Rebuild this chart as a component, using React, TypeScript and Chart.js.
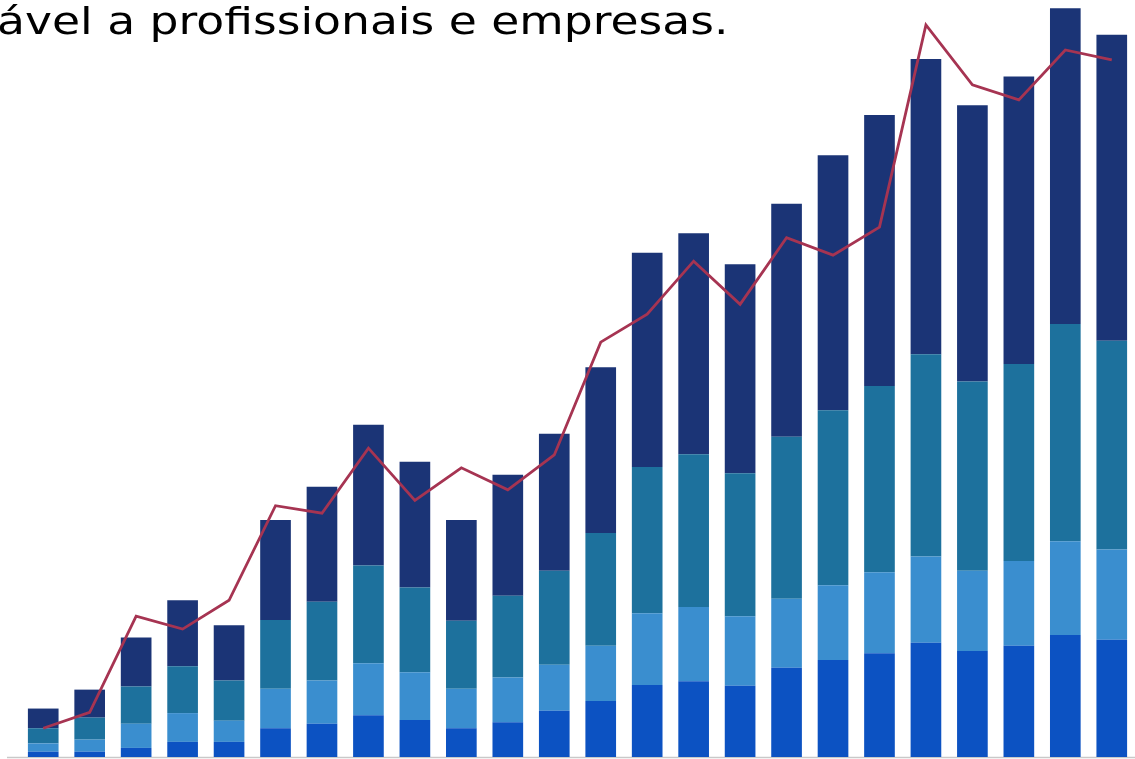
import React, { useEffect, useRef } from "react";
import { Chart, registerables } from "chart.js";

Chart.register(...registerables);

const categories = [
  "1", "2", "3", "4", "5", "6", "7", "8", "9", "10", "11", "12",
  "13", "14", "15", "16", "17", "18", "19", "20", "21", "22", "23", "24",
];

const seriesA = [0.7, 0.7, 1.2, 2.0, 2.0, 3.8, 4.4, 5.5, 4.9, 3.8, 4.6, 6.1, 7.4, 9.5, 10.0, 9.4, 11.8, 12.8, 13.7, 15.1, 14.0, 14.7, 16.1, 15.5];
const seriesB = [1.1, 1.6, 3.2, 3.8, 2.8, 5.2, 5.7, 6.9, 6.3, 5.2, 5.9, 6.1, 7.3, 9.5, 9.8, 9.2, 9.1, 9.9, 10.7, 11.4, 10.6, 11.2, 12.4, 11.9];
const seriesC = [2.0, 2.9, 4.9, 6.2, 5.3, 9.1, 10.4, 12.9, 11.2, 9.0, 10.8, 12.4, 14.9, 19.3, 20.2, 18.9, 21.4, 23.1, 24.6, 26.7, 25.0, 26.0, 28.7, 27.6];
const seriesD = [2.6, 3.7, 6.5, 8.7, 7.3, 13.2, 15.2, 18.6, 16.6, 13.3, 16.0, 18.1, 21.9, 28.3, 29.2, 27.6, 30.8, 33.7, 35.8, 39.0, 36.5, 38.0, 41.7, 40.4];
const lineSeries = [3.8, 5.9, 18.6, 16.9, 20.7, 33.2, 32.2, 40.8, 33.9, 38.2, 35.3, 39.9, 54.8, 58.5, 65.5, 59.8, 68.6, 66.3, 70.0, 96.7, 88.8, 86.8, 93.4, 92.1];

const titleText = "ável a profissionais e empresas.";

const baselinePlugin = {
  id: "baseline",
  beforeDatasetsDraw(chart: any) {
    const { ctx } = chart;
    const y = chart.scales.y.getPixelForValue(0);
    ctx.save();
    ctx.strokeStyle = "#c9c9c9";
    ctx.lineWidth = 1.5;
    ctx.beginPath();
    ctx.moveTo(7, y + 0.5);
    ctx.lineTo(chart.width, y + 0.5);
    ctx.stroke();
    ctx.restore();
  },
};

export default function App() {
  const canvasRef = useRef<HTMLCanvasElement | null>(null);

  useEffect(() => {
    document.body.style.margin = "0";
    const canvas = canvasRef.current;
    if (!canvas) return;
    const barCommon = {
      type: "bar" as const,
      barPercentage: 0.66,
      categoryPercentage: 1,
      borderWidth: 0,
      order: 1,
    };
    const chart = new Chart(canvas, {
      type: "bar",
      data: {
        labels: categories,
        datasets: [
          { ...barCommon, label: "A", data: seriesA, backgroundColor: "#0c52c2" },
          { ...barCommon, label: "B", data: seriesB, backgroundColor: "#3a8ecf" },
          { ...barCommon, label: "C", data: seriesC, backgroundColor: "#1d719d" },
          { ...barCommon, label: "D", data: seriesD, backgroundColor: "#1b3476" },
          {
            type: "line" as const,
            label: "Linha",
            data: lineSeries,
            borderColor: "#a63452",
            borderWidth: 2.8,
            pointRadius: 0,
            tension: 0,
            fill: false,
            yAxisID: "y1",
            order: 0,
          } as any,
        ],
      },
      options: {
        animation: false,
        responsive: true,
        maintainAspectRatio: false,
        layout: { padding: { left: 20, right: 0, top: 0, bottom: 2 } },
        plugins: {
          legend: { display: false },
          title: { display: false },
          tooltip: { enabled: false },
        },
        scales: {
          x: { display: false, stacked: true },
          y: { display: false, stacked: true, min: 0, max: 100 },
          y1: { display: false, stacked: false, min: 0, max: 100 },
        },
      },
      plugins: [baselinePlugin],
    });
    return () => chart.destroy();
  }, []);

  return (
    <div style={{ position: "relative", width: 1135, height: 759, overflow: "hidden", background: "#ffffff" }}>
      <canvas ref={canvasRef} style={{ position: "absolute", left: 0, top: 0 }} />
      <div
        style={{
          position: "absolute",
          left: -3,
          top: -3,
          fontFamily: "'DejaVu Sans', sans-serif",
          fontSize: 38,
          lineHeight: "48px",
          color: "#000000",
          whiteSpace: "nowrap",
          pointerEvents: "none",
          transform: "scaleX(1.2)",
          transformOrigin: "left top",
        }}
      >
        {titleText}
      </div>
    </div>
  );
}
